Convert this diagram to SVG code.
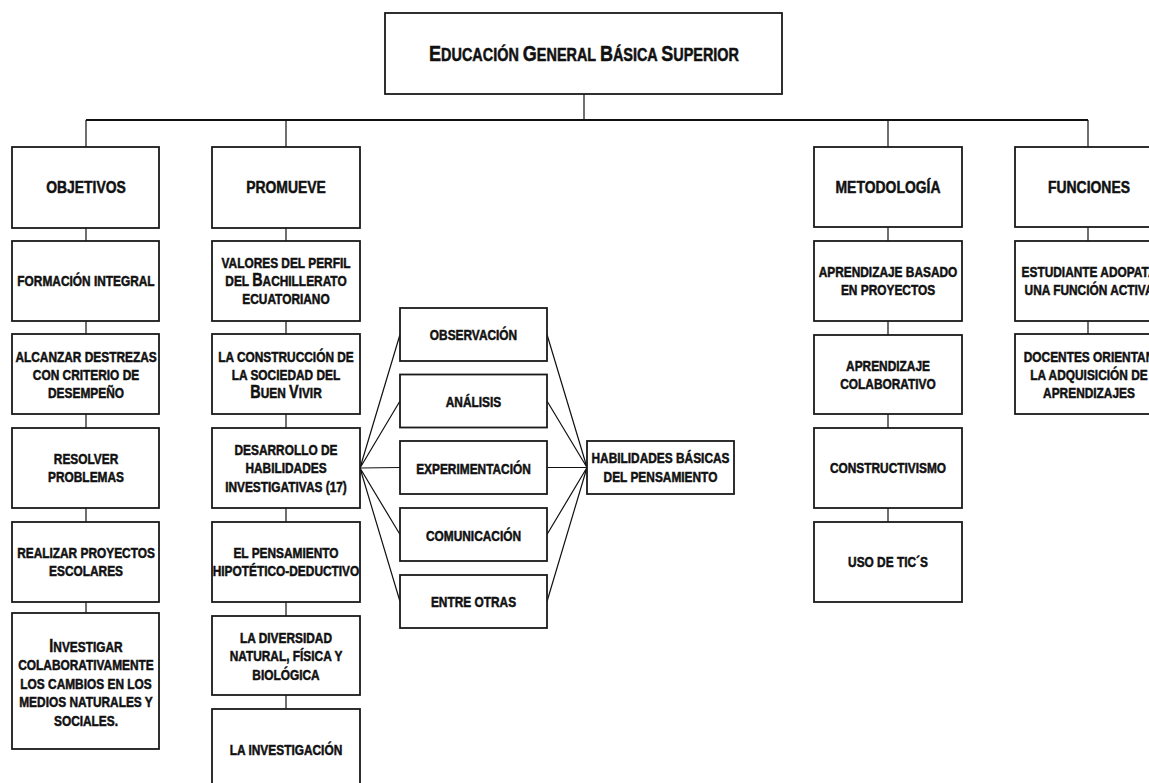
<svg xmlns="http://www.w3.org/2000/svg" width="1149" height="783" viewBox="0 0 1149 783">
  <style>
    .box { fill: #ffffff; stroke: #1a1a1a; stroke-width: 1.8; }
    .wire { fill: none; stroke: #111111; stroke-width: 1.2; }
    .bus { fill: none; stroke: #111111; stroke-width: 2; }
    text { font-family: "Liberation Sans", Arial, sans-serif; font-weight: bold; fill: #111111; stroke: #111111; stroke-width: 0.5; text-anchor: middle;
           transform-box: fill-box; transform-origin: center; transform: scaleX(0.82); }
    .t { font-size: 14.5px; }
    .h { font-size: 17px; }
  </style>

  <rect width="1149" height="783" fill="#ffffff"/>

  <!-- connectors -->
  <g id="connectors">
    <path class="wire" d="M584 94 V120"/>
    <path class="bus" d="M86 120 H1088"/>
    <path class="wire" d="M86 120 V147 M286 120 V147 M888 120 V147 M1088 120 V147"/>
    <!-- objetivos column -->
    <path class="wire" d="M86 228 V241 M86 321 V334 M86 414 V428 M86 508 V522 M86 602 V613"/>
    <!-- promueve column -->
    <path class="wire" d="M286 228 V241 M286 321 V334 M286 414 V428 M286 508 V522 M286 602 V616 M286 695 V709"/>
    <!-- metodologia column -->
    <path class="wire" d="M888 227 V241 M888 321 V335 M888 414 V428 M888 508 V522"/>
    <!-- funciones column -->
    <path class="wire" d="M1088 227 V241 M1088 321 V334"/>
    <!-- fan-out to the thinking skills -->
    <path class="wire" d="M360 468 L400 334.5 M360 468 L400 401 M360 468 L400 467.5 M360 468 L400 534.5 M360 468 L400 601.5"/>
    <path class="wire" d="M547 334.5 L587 467.5 M547 401 L587 467.5 M547 467.5 L587 467.5 M547 534.5 L587 467.5 M547 601.5 L587 467.5"/>
  </g>

  <!-- root -->
  <g id="root">
    <rect class="box" x="385" y="13" width="397" height="81"/>
    <text x="584" y="61"><tspan font-size="22">E</tspan><tspan font-size="17.6">DUCACIÓN </tspan><tspan font-size="22">G</tspan><tspan font-size="17.6">ENERAL </tspan><tspan font-size="22">B</tspan><tspan font-size="17.6">ÁSICA </tspan><tspan font-size="22">S</tspan><tspan font-size="17.6">UPERIOR</tspan></text>
  </g>

  <!-- column: objetivos -->
  <g id="objetivos">
    <rect class="box" x="12" y="147" width="147" height="81"/>
    <text class="h" x="86" y="193.5">OBJETIVOS</text>
  </g>
  <g id="formacion">
    <rect class="box" x="12" y="241" width="147" height="80"/>
    <text class="t" x="86" y="286">FORMACIÓN INTEGRAL</text>
  </g>
  <g id="destrezas">
    <rect class="box" x="12" y="334" width="147" height="80"/>
    <text class="t" x="86" y="362">ALCANZAR DESTREZAS</text>
    <text class="t" x="86" y="380">CON CRITERIO DE</text>
    <text class="t" x="86" y="398">DESEMPEÑO</text>
  </g>
  <g id="resolver">
    <rect class="box" x="12" y="428" width="147" height="80"/>
    <text class="t" x="86" y="464">RESOLVER</text>
    <text class="t" x="86" y="482">PROBLEMAS</text>
  </g>
  <g id="proyectos-escolares">
    <rect class="box" x="12" y="522" width="147" height="80"/>
    <text class="t" x="86" y="558">REALIZAR PROYECTOS</text>
    <text class="t" x="86" y="576">ESCOLARES</text>
  </g>
  <g id="investigar">
    <rect class="box" x="12" y="613" width="147" height="136"/>
    <text class="t" x="86" y="652"><tspan font-size="17.5">I</tspan>NVESTIGAR</text>
    <text class="t" x="86" y="670.5">COLABORATIVAMENTE</text>
    <text class="t" x="86" y="689">LOS CAMBIOS EN LOS</text>
    <text class="t" x="86" y="707.5">MEDIOS NATURALES Y</text>
    <text class="t" x="86" y="726">SOCIALES.</text>
  </g>

  <!-- column: promueve -->
  <g id="promueve">
    <rect class="box" x="212" y="147" width="148" height="81"/>
    <text class="h" x="286" y="193.5">PROMUEVE</text>
  </g>
  <g id="valores">
    <rect class="box" x="212" y="241" width="148" height="80"/>
    <text class="t" x="286" y="268">VALORES DEL PERFIL</text>
    <text class="t" x="286" y="286">DEL <tspan font-size="17.5">B</tspan>ACHILLERATO</text>
    <text class="t" x="286" y="304">ECUATORIANO</text>
  </g>
  <g id="buen-vivir">
    <rect class="box" x="212" y="334" width="148" height="80"/>
    <text class="t" x="286" y="362">LA CONSTRUCCIÓN DE</text>
    <text class="t" x="286" y="380">LA SOCIEDAD DEL</text>
    <text class="t" x="286" y="398"><tspan font-size="17.5">B</tspan>UEN <tspan font-size="17.5">V</tspan>IVIR</text>
  </g>
  <g id="habilidades-investigativas">
    <rect class="box" x="212" y="428" width="148" height="80"/>
    <text class="t" x="286" y="455">DESARROLLO DE</text>
    <text class="t" x="286" y="473">HABILIDADES</text>
    <text class="t" x="286" y="492">INVESTIGATIVAS (17)</text>
  </g>
  <g id="hipotetico">
    <rect class="box" x="212" y="522" width="148" height="80"/>
    <text class="t" x="286" y="558">EL PENSAMIENTO</text>
    <text class="t" x="286" y="576">HIPOTÉTICO-DEDUCTIVO</text>
  </g>
  <g id="diversidad">
    <rect class="box" x="212" y="616" width="148" height="79"/>
    <text class="t" x="286" y="643">LA DIVERSIDAD</text>
    <text class="t" x="286" y="661">NATURAL, FÍSICA Y</text>
    <text class="t" x="286" y="680">BIOLÓGICA</text>
  </g>
  <g id="investigacion">
    <rect class="box" x="212" y="709" width="148" height="80"/>
    <text class="t" x="286" y="755">LA INVESTIGACIÓN</text>
  </g>

  <!-- thinking skills -->
  <g id="observacion">
    <rect class="box" x="400" y="308" width="147" height="53"/>
    <text class="t" x="473.5" y="340">OBSERVACIÓN</text>
  </g>
  <g id="analisis">
    <rect class="box" x="400" y="374.5" width="147" height="53"/>
    <text class="t" x="473.5" y="407">ANÁLISIS</text>
  </g>
  <g id="experimentacion">
    <rect class="box" x="400" y="441" width="147" height="53"/>
    <text class="t" x="473.5" y="474">EXPERIMENTACIÓN</text>
  </g>
  <g id="comunicacion">
    <rect class="box" x="400" y="508" width="147" height="53"/>
    <text class="t" x="473.5" y="541">COMUNICACIÓN</text>
  </g>
  <g id="entre-otras">
    <rect class="box" x="400" y="575" width="147" height="53"/>
    <text class="t" x="473.5" y="607">ENTRE OTRAS</text>
  </g>
  <g id="habilidades-basicas">
    <rect class="box" x="587" y="441" width="147" height="53"/>
    <text class="t" x="660.5" y="463">HABILIDADES BÁSICAS</text>
    <text class="t" x="660.5" y="482">DEL PENSAMIENTO</text>
  </g>

  <!-- column: metodologia -->
  <g id="metodologia">
    <rect class="box" x="814" y="147" width="148" height="80"/>
    <text class="h" x="888" y="193">METODOLOGÍA</text>
  </g>
  <g id="abp">
    <rect class="box" x="814" y="241" width="148" height="80"/>
    <text class="t" x="888" y="277">APRENDIZAJE BASADO</text>
    <text class="t" x="888" y="295">EN PROYECTOS</text>
  </g>
  <g id="colaborativo">
    <rect class="box" x="814" y="335" width="148" height="79"/>
    <text class="t" x="888" y="371">APRENDIZAJE</text>
    <text class="t" x="888" y="389">COLABORATIVO</text>
  </g>
  <g id="constructivismo">
    <rect class="box" x="814" y="428" width="148" height="80"/>
    <text class="t" x="888" y="473">CONSTRUCTIVISMO</text>
  </g>
  <g id="tics">
    <rect class="box" x="814" y="522" width="148" height="80"/>
    <text class="t" x="888" y="567">USO DE TIC´S</text>
  </g>

  <!-- column: funciones -->
  <g id="funciones">
    <rect class="box" x="1015" y="147" width="148" height="80"/>
    <text class="h" x="1089" y="193">FUNCIONES</text>
  </g>
  <g id="estudiante">
    <rect class="box" x="1015" y="241" width="148" height="80"/>
    <text class="t" x="1089" y="277">ESTUDIANTE ADOPATA</text>
    <text class="t" x="1089" y="295">UNA FUNCIÓN ACTIVA</text>
  </g>
  <g id="docentes">
    <rect class="box" x="1015" y="334" width="148" height="80"/>
    <text class="t" x="1089" y="362">DOCENTES ORIENTAN</text>
    <text class="t" x="1089" y="380">LA ADQUISICIÓN DE</text>
    <text class="t" x="1089" y="398">APRENDIZAJES</text>
  </g>
</svg>
